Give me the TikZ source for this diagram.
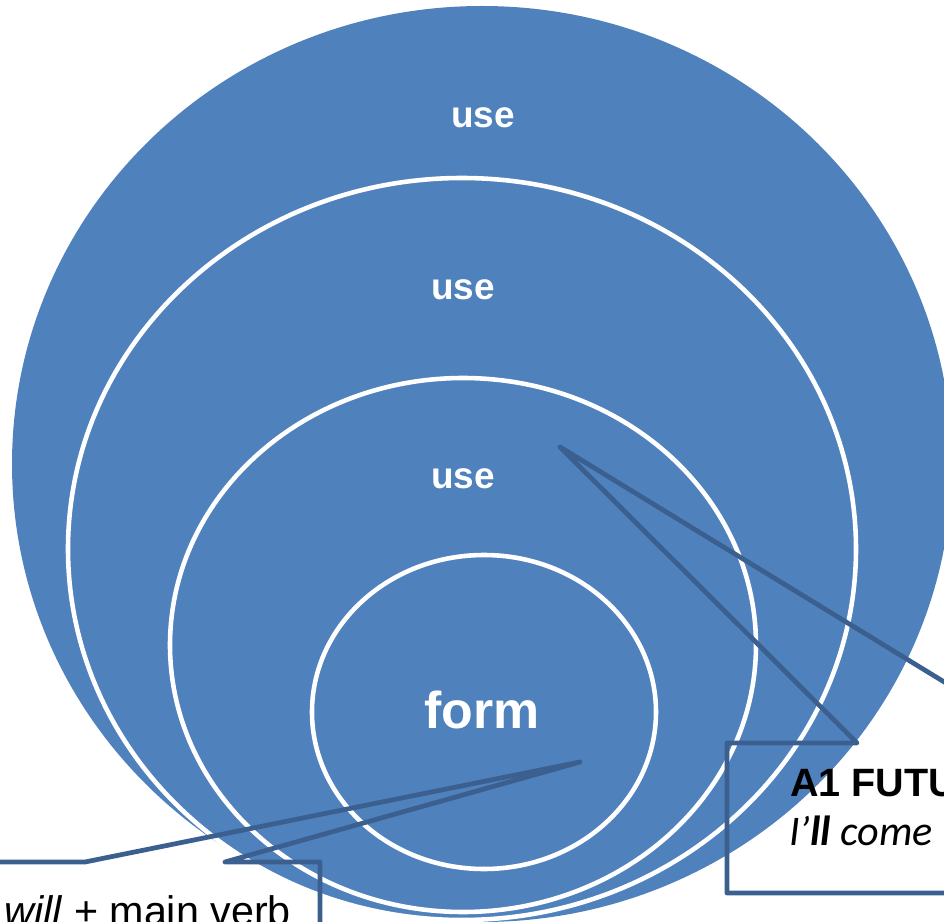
\documentclass[tikz,border=0pt]{standalone}
\usepackage{fontspec}
\setmainfont{Liberation Sans}
\newfontfamily\calibri{Carlito}
\usetikzlibrary{positioning}
\definecolor{vennblue}{HTML}{4F81BD}
\definecolor{callblue}{HTML}{3B5F8E}

\begin{document}
\begin{tikzpicture}[x=0.02cm,y=-0.02cm,
  ring/.style={fill=vennblue,draw=white,line width=2.6pt},
  layer/.style={text=white,inner sep=0pt,font=\bfseries\fontsize{21}{25}\selectfont},
  callout/.style={draw=callblue,line width=2.7pt,line join=round},
  note/.style={anchor=base west,inner sep=0pt,text=black}]
\useasboundingbox (0,0) rectangle (944,922);
\clip (0,0) rectangle (944,922);
% stacked rings, largest first
\fill[vennblue] (482,464) ellipse [x radius=470,y radius=458];
\draw[ring] (462,549) ellipse [x radius=394,y radius=371];
\draw[ring] (463,645) ellipse [x radius=293,y radius=267];
\draw[ring] (484,712) ellipse [x radius=172,y radius=157];
\node[layer] (use1) at (483,118) {use};
\node[layer] (use2) at (463,290) {use};
\node[layer] (use3) at (463,479) {use};
\node[layer,font=\bfseries\fontsize{29.5}{34}\selectfont] (form) at (482,710) {form};
% callouts
\coordinate (formTip) at (580,762);
\coordinate (useTip) at (560,447);
\draw[callout] (-20,862) -- (85,862) -- (formTip) -- (225,862) -- (320,862) -- (320,960);
\draw[callout] (1100,893) -- (727,893) -- (727,743) -- (857,743) -- (useTip) -- (1044,743) -- (1100,743);
\node[note,font=\fontsize{23.5}{28}\selectfont] (verb) at (4,925) {\textit{will} + main verb};
\node[note,font=\bfseries\fontsize{22.5}{26}\selectfont] (title) at (790,796) {A1 FUTU};
\node[note,font=\calibri\itshape\fontsize{24}{28}\selectfont] (example) at (789,845) {I’\textbf{ll} come};
\end{tikzpicture}
\end{document}
